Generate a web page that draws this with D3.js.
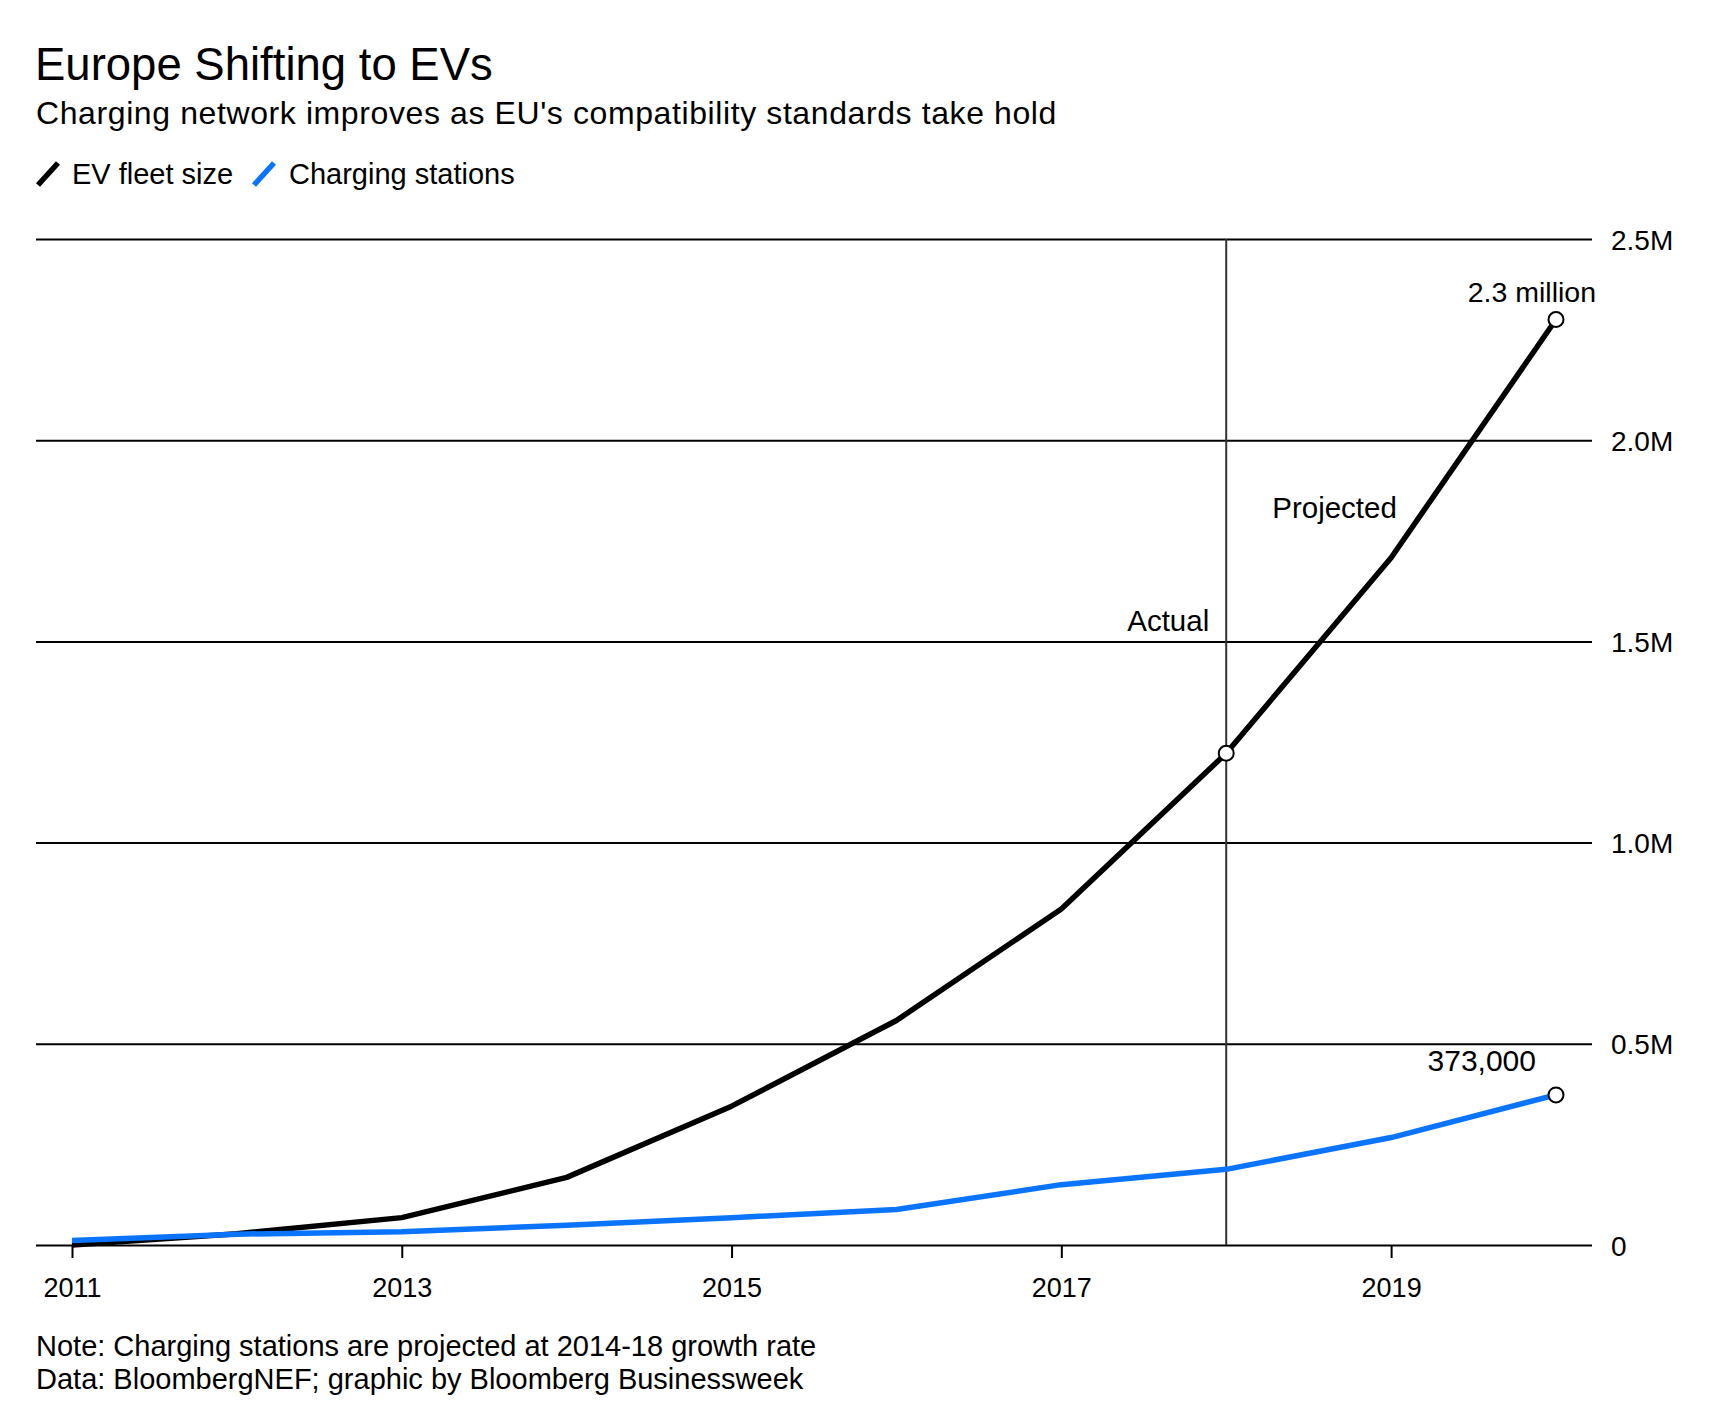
<!DOCTYPE html>
<html>
<head>
<meta charset="utf-8">
<script src="https://cdn.jsdelivr.net/npm/d3@7"></script>
<style>
  body { margin: 0; background: #fff; }
  svg { font-family: "Liberation Sans", Arial, Helvetica, sans-serif; }
  .grid line { stroke: #000; stroke-width: 2; }
  .xaxis line { stroke: #000; stroke-width: 2; }
  .axis text { fill: #000; }
  .grid text { font-size: 28px; }
  .xaxis text { font-size: 27px; }
</style>
</head>
<body>
<div id="chart"></div>
<script>
// chart data
const years = [2011, 2012, 2013, 2014, 2015, 2016, 2017, 2018, 2019, 2020];
const evFleet = [0, 0.028e6, 0.068e6, 0.168e6, 0.345e6, 0.558e6, 0.835e6, 1.222e6, 1.708e6, 2.3e6];
const chargers = [0.011e6, 0.027e6, 0.033e6, 0.049e6, 0.068e6, 0.088e6, 0.150e6, 0.188e6, 0.267e6, 0.373e6];
const yTicks = [0, 0.5e6, 1.0e6, 1.5e6, 2.0e6, 2.5e6];
const xTicks = [2011, 2013, 2015, 2017, 2019];
const splitYear = 2018;
const seriesNames = ["EV fleet size", "Charging stations"];
const seriesColors = ["#000000", "#0a74ff"];
const endLabels = ["2.3 million", "373,000"];

const W = 1716, H = 1412;
const plot = {left: 36, right: 1592, top: 239, bottom: 1245};

let svg = d3.select("#chart").append("svg")
    .attr("width", W)
    .attr("height", H);

// titles
svg.append("text").attr("x", 35).attr("y", 80)
    .style("font-size", "45.5px").text("Europe Shifting to EVs");
svg.append("text").attr("x", 36).attr("y", 124)
    .style("font-size", "32px").style("letter-spacing", "0.6px")
    .text("Charging network improves as EU's compatibility standards take hold");

// legend
let legendX = [38, 254];
let textX = [72, 289];
seriesNames.forEach((name, i) => {
    svg.append("line")
        .attr("x1", legendX[i]).attr("y1", 185)
        .attr("x2", legendX[i] + 20).attr("y2", 163)
        .attr("stroke", seriesColors[i]).attr("stroke-width", 5.5);
    svg.append("text").attr("x", textX[i]).attr("y", 184)
        .style("font-size", "29px").text(name);
});

// scales
const x = d3.scaleLinear().domain([2011, 2020]).range([72, 1556]);
const y = d3.scaleLinear().domain([0, 2.5e6]).range([plot.bottom, plot.top]);

// gridlines + right labels
let yAxis = svg.append("g").attr("class", "axis grid")
    .attr("transform", `translate(${plot.right},0)`)
    .call(d3.axisRight(y).tickValues(yTicks)
        .tickSize(-(plot.right - plot.left)).tickPadding(19)
        .tickFormat(d => d === 0 ? "0" : (d / 1e6).toFixed(1) + "M"));
yAxis.select(".domain").remove();
yAxis.selectAll("text").attr("dy", "0.36em");

// x ticks
let xAxis = svg.append("g").attr("class", "axis xaxis")
    .attr("transform", `translate(0,${plot.bottom})`)
    .call(d3.axisBottom(x).tickValues(xTicks).tickSize(13)
        .tickPadding(20).tickFormat(d3.format("d")));
xAxis.select(".domain").remove();

// actual / projected divider
svg.append("line")
    .attr("x1", x(splitYear)).attr("x2", x(splitYear))
    .attr("y1", plot.top).attr("y2", plot.bottom)
    .attr("stroke", "#333").attr("stroke-width", 2);
svg.append("text").attr("x", x(splitYear) - 17).attr("y", 631)
    .attr("text-anchor", "end").style("font-size", "29.5px").text("Actual");
svg.append("text").attr("x", x(splitYear) + 46).attr("y", 518)
    .style("font-size", "29.5px").text("Projected");

// lines
const line = d3.line().x((d, i) => x(years[i])).y(d => y(d));
[evFleet, chargers].forEach((vals, i) => {
    svg.append("path").datum(vals)
        .attr("fill", "none")
        .attr("stroke", seriesColors[i])
        .attr("stroke-width", 5.5)
        .attr("stroke-linejoin", "round")
        .attr("d", line);
});

// highlighted points
let dots = [
    [splitYear, evFleet[years.indexOf(splitYear)]],
    [2020, evFleet[evFleet.length - 1]],
    [2020, chargers[chargers.length - 1]]
];
svg.selectAll("circle.pt").data(dots).join("circle")
    .attr("class", "pt")
    .attr("cx", d => x(d[0])).attr("cy", d => y(d[1]))
    .attr("r", 7.5)
    .attr("fill", "#fff").attr("stroke", "#000").attr("stroke-width", 2);

// end labels
svg.append("text").attr("x", 1596).attr("y", 302)
    .attr("text-anchor", "end").style("font-size", "28.5px").text(endLabels[0]);
svg.append("text").attr("x", 1536).attr("y", 1071)
    .attr("text-anchor", "end").style("font-size", "30px").text(endLabels[1]);

// footnotes
svg.append("text").attr("x", 36).attr("y", 1356).style("font-size", "29px")
    .text("Note: Charging stations are projected at 2014-18 growth rate");
svg.append("text").attr("x", 36).attr("y", 1389).style("font-size", "29px")
    .text("Data: BloombergNEF; graphic by Bloomberg Businessweek");
</script>
</body>
</html>
